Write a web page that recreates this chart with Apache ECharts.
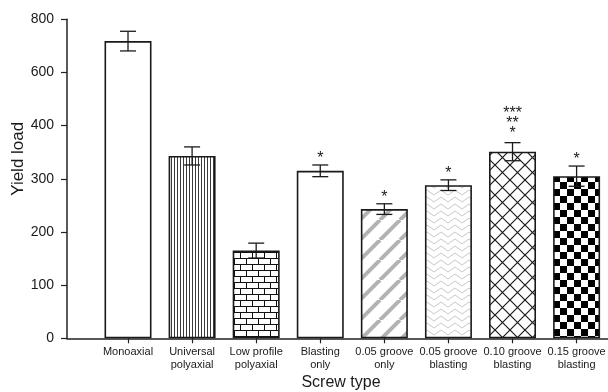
<!DOCTYPE html>
<html><head><meta charset="utf-8">
<script src="https://cdn.jsdelivr.net/npm/echarts@6/dist/echarts.min.js"></script>
<style>html,body{margin:0;padding:0;background:#fff}#c{width:608px;height:392px}</style>
</head><body><div id="c"></div>
<script>
// ---- data ----
const categories = ['Monoaxial', 'Universal\npolyaxial', 'Low profile\npolyaxial', 'Blasting\nonly',
  '0.05 groove\nonly', '0.05 groove\nblasting', '0.10 groove\nblasting', '0.15 groove\nblasting'];
const yieldLoad = [718, 343, 165, 315, 243, 288, 351, 305];
const yieldErr = [37, 17, 14, 11, 10, 10, 17, 19];
const significance = ['', '', '', '*', '*', '*', '***\n**\n*', '*'];
const yTickLabels = [0, 100, 200, 300, 400, 600, 800];

// broken axis: 0-400 linear, 400-800 compressed by half
function fwd(v) { return v <= 400 ? v : 400 + (v - 400) / 2; }
function inv(d) { return d <= 400 ? d : 400 + (d - 400) * 2; }

function pat(w, h, draw) {
  const c = document.createElement('canvas'); c.width = w; c.height = h;
  const g = c.getContext('2d'); g.fillStyle = '#fff'; g.fillRect(0, 0, w, h);
  draw(g, w, h); return { image: c, repeat: 'repeat' };
}
const patterns = [
  '#ffffff',
  pat(3, 4, (g) => { g.fillStyle = '#3a3a3a'; g.fillRect(0, 0, 1, 4); }),
  pat(12, 12, (g) => { g.strokeStyle = '#111'; g.lineWidth = 1; g.beginPath();
    g.moveTo(0, 0.5); g.lineTo(12, 0.5); g.moveTo(0, 6.5); g.lineTo(12, 6.5);
    g.moveTo(0.5, 0); g.lineTo(0.5, 6); g.moveTo(6.5, 6); g.lineTo(6.5, 12); g.stroke(); }),
  '#ffffff',
  pat(20, 20, (g) => { g.strokeStyle = '#b3b3b3'; g.lineWidth = 4; g.beginPath();
    [-20, 0, 20].forEach(x => { g.moveTo(x, 20); g.lineTo(x + 20, 0); }); g.stroke(); }),
  pat(14, 7, (g) => { g.strokeStyle = '#c8c8c8'; g.lineWidth = 1; g.beginPath();
    g.moveTo(0, 6); g.lineTo(7, 1); g.lineTo(14, 6); g.stroke(); }),
  pat(15, 15, (g) => { g.strokeStyle = '#1a1a1a'; g.lineWidth = 1.2; g.beginPath();
    g.moveTo(0, 0); g.lineTo(15, 15); g.moveTo(0, 15); g.lineTo(15, 0); g.stroke(); }),
  pat(14, 14, (g) => { g.fillStyle = '#000'; g.fillRect(0, 0, 7, 7); g.fillRect(7, 7, 7, 7); })
];

const idx = categories.map((_, i) => i);
const barData = idx.map(i => ({ value: [i, fwd(yieldLoad[i])], itemStyle: { color: patterns[i] } }));
const errData = idx.map(i => [i, fwd(yieldLoad[i] - yieldErr[i]), fwd(yieldLoad[i] + yieldErr[i])]);

const FONT = '"Liberation Sans", Arial, sans-serif';
const chart = echarts.init(document.getElementById('c'), null, { renderer: 'canvas' });
chart.setOption({
  animation: false,
  backgroundColor: '#fff',
  grid: { left: 67, right: 0, top: 19.3, bottom: 53.7, containLabel: false, outerBoundsMode: 'none' },
  xAxis: {
    type: 'value', min: -0.952, max: 7.49,
    name: 'Screw type', nameLocation: 'middle', nameGap: 36, nameMoveOverlap: false,
    nameTextStyle: { fontFamily: FONT, fontSize: 16, color: '#1a1a1a', padding: [0, 0, 0, 7] },
    axisLine: { onZero: false, lineStyle: { color: '#222', width: 1.5 } },
    axisTick: { customValues: idx, length: 5, lineStyle: { color: '#222', width: 1.2 } },
    axisLabel: { customValues: idx, formatter: v => categories[Math.round(v)], margin: 7,
      hideOverlap: false, fontFamily: FONT, fontSize: 11, lineHeight: 13, color: '#1a1a1a' },
    splitLine: { show: false }
  },
  yAxis: {
    type: 'value', min: 0, max: fwd(800),
    name: 'Yield load', nameLocation: 'middle', nameGap: 40, nameMoveOverlap: false,
    nameTextStyle: { fontFamily: FONT, fontSize: 17, color: '#1a1a1a', padding: [0, 0, 0, 40] },
    axisLine: { show: true, onZero: false, lineStyle: { color: '#222', width: 1.5 } },
    axisTick: { show: true, customValues: yTickLabels.map(fwd), length: 6, lineStyle: { color: '#222', width: 1.2 } },
    axisLabel: { customValues: yTickLabels.map(fwd), formatter: v => String(inv(v)), margin: 13,
      fontFamily: FONT, fontSize: 14, color: '#1a1a1a' },
    splitLine: { show: false }
  },
  series: [
    { type: 'bar', data: barData, barWidth: 47,
      itemStyle: { borderColor: '#1a1a1a', borderWidth: 1.6 } },
    { type: 'custom', data: errData, encode: { x: 0, y: [1, 2] }, z: 5, clip: false,
      renderItem: function (params, api) {
        const x = api.value(0);
        const lo = api.coord([x, api.value(1)]);
        const hi = api.coord([x, api.value(2)]);
        const h = 8, st = { stroke: '#1a1a1a', lineWidth: 1.3 };
        const children = [
          { type: 'line', shape: { x1: hi[0], y1: hi[1], x2: lo[0], y2: lo[1] }, style: st },
          { type: 'line', shape: { x1: hi[0] - h, y1: hi[1], x2: hi[0] + h, y2: hi[1] }, style: st },
          { type: 'line', shape: { x1: lo[0] - h, y1: lo[1], x2: lo[0] + h, y2: lo[1] }, style: st }
        ];
        const s = significance[params.dataIndex];
        if (s) children.push({ type: 'text', x: hi[0], y: hi[1] - (s.length > 1 ? 4 : 1),
          style: { text: s, align: 'center', verticalAlign: 'bottom', fontFamily: FONT,
            fontSize: 16, lineHeight: 10, fill: '#1a1a1a' } });
        return { type: 'group', children };
      } }
  ]
});
</script></body></html>
